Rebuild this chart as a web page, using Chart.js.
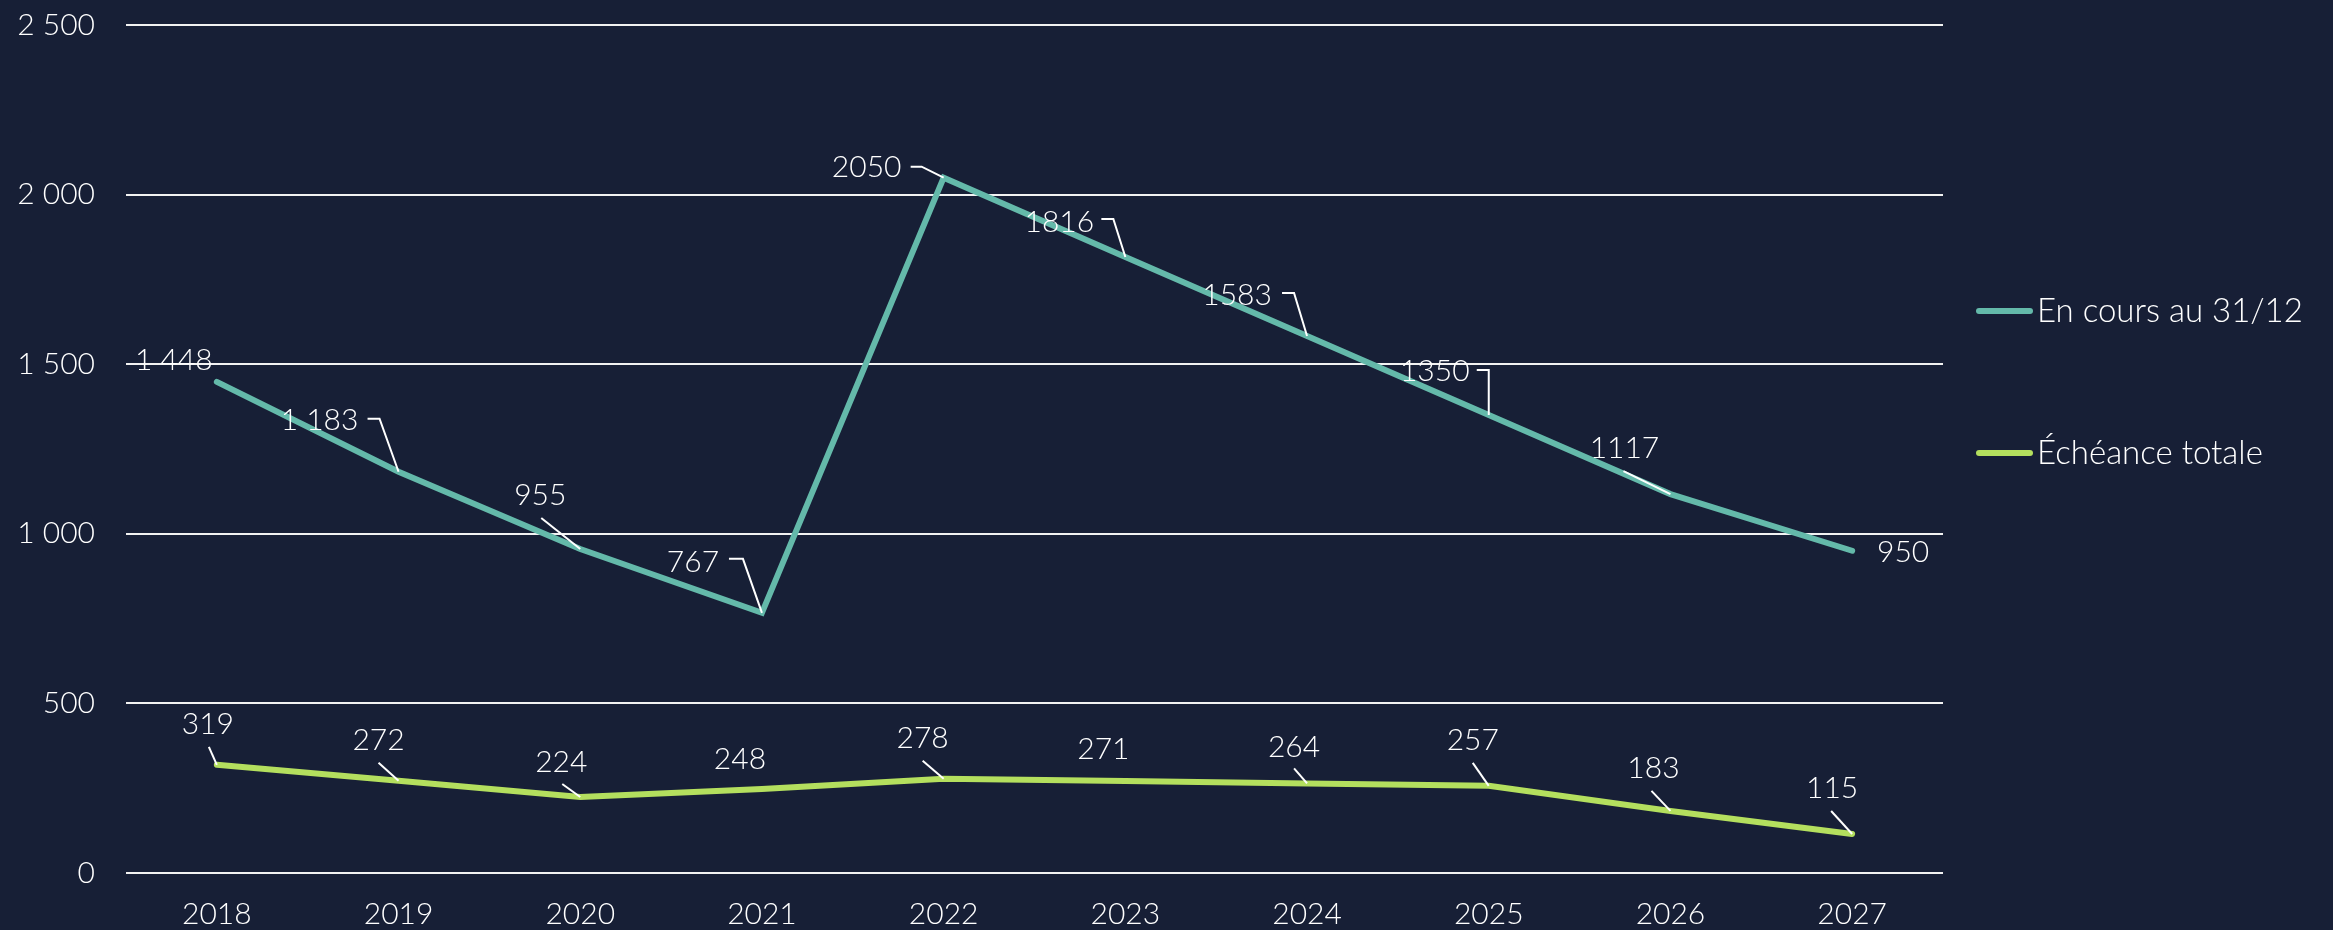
<!DOCTYPE html>
<html lang="fr">
<head>
  <meta charset="UTF-8" />
  <title>En cours au 31/12 et échéance totale</title>
  <script src="https://cdn.jsdelivr.net/npm/chart.js@4/dist/chart.umd.min.js"></script>
  <style>
    html, body {
      margin: 0;
      padding: 0;
      background: #171f36;
    }
    .chart-box {
      position: relative;
      width: 2333px;
      height: 930px;
    }
  </style>
</head>
<body>
  <div class="chart-box">
    <canvas id="chartMain"></canvas>
  </div>

  <script>
    // --------------------------
    // données
    // --------------------------
    const annees = ['2018', '2019', '2020', '2021', '2022', '2023', '2024', '2025', '2026', '2027'];
    const enCours = [1448, 1183, 955, 767, 2050, 1816, 1583, 1350, 1117, 950];
    const echeance = [319, 272, 224, 248, 278, 271, 264, 257, 183, 115];
    const enCoursTextes = ['1 448', '1 183', '955', '767', '2050', '1816', '1583', '1350', '1117', '950'];
    const echeanceTextes = ['319', '272', '224', '248', '278', '271', '264', '257', '183', '115'];
    const yTicksTextes = ['0', '500', '1 000', '1 500', '2 000', '2 500'];
    const seriesNoms = ['En cours au 31/12', 'Échéance totale'];

    // couleurs
    const fond = '#171f36';
    const teal = '#64b9aa';
    const vert = '#b4df5e';
    const blanc = '#ffffff';
    const police = 'Lato, "Open Sans", sans-serif';

    // placement des étiquettes : décalage (px) par rapport au point + trait de rappel
    const placementEnCours = [
      { dx: -43, dy: -22, trait: null },
      { dx: -79, dy: -51, trait: [[-31, -53], [-19, -53], [0, 0]] },
      { dx: -40, dy: -54, trait: [[-39, -31], [0, 0]] },
      { dx: -69, dy: -51, trait: [[-33, -54], [-19, -54], [0, 0]] },
      { dx: -77, dy: -10, trait: [[-33, -11], [-22, -11], [0, 0]] },
      { dx: -66, dy: -35, trait: [[-24, -38], [-12, -38], [0, 0]] },
      { dx: -70, dy: -41, trait: [[-25, -43], [-13, -43], [0, 0]] },
      { dx: -54, dy: -44, trait: [[-12, -45], [0, -45], [0, 0]] },
      { dx: -46, dy: -46, trait: [[-47, -23], [0, 0]] },
      { dx: 51, dy: 2, trait: null }
    ];
    const placementEcheance = [
      { dx: -9, dy: -40, trait: [[-8, -18], [0, 0]] },
      { dx: -20, dy: -40, trait: [[-20, -18], [0, 0]] },
      { dx: -19, dy: -35, trait: [[-18, -13], [0, 0]] },
      { dx: -22, dy: -30, trait: null },
      { dx: -21, dy: -40, trait: [[-21, -18], [0, 0]] },
      { dx: -22, dy: -32, trait: null },
      { dx: -13, dy: -36, trait: [[-13, -15], [0, 0]] },
      { dx: -16, dy: -45, trait: [[-16, -23], [0, 0]] },
      { dx: -17, dy: -43, trait: [[-19, -20], [0, 0]] },
      { dx: -20, dy: -46, trait: [[-21, -23], [0, 0]] }
    ];
    const textes = [enCoursTextes, echeanceTextes];
    const placements = [placementEnCours, placementEcheance];

    // fond du canvas
    const fondPlugin = {
      id: 'fond',
      beforeDraw(chart) {
        const ctx = chart.ctx;
        ctx.save();
        ctx.fillStyle = fond;
        ctx.fillRect(0, 0, chart.width, chart.height);
        ctx.restore();
      }
    };

    // étiquettes de valeurs avec traits de rappel
    const etiquettesPlugin = {
      id: 'etiquettes',
      afterDatasetsDraw(chart) {
        const ctx = chart.ctx;
        ctx.save();
        ctx.font = '300 30px ' + police;
        ctx.fillStyle = blanc;
        ctx.strokeStyle = blanc;
        ctx.lineWidth = 2;
        ctx.textAlign = 'center';
        ctx.textBaseline = 'middle';
        chart.data.datasets.forEach((ds, i) => {
          const meta = chart.getDatasetMeta(i);
          meta.data.forEach((pt, j) => {
            const p = placements[i][j];
            if (p.trait) {
              ctx.beginPath();
              p.trait.forEach(([x, y], k) => {
                if (k === 0) ctx.moveTo(pt.x + x, pt.y + y);
                else ctx.lineTo(pt.x + x, pt.y + y);
              });
              ctx.stroke();
            }
            ctx.fillText(textes[i][j], pt.x + p.dx, pt.y + p.dy);
          });
        });
        ctx.restore();
      }
    };

    // légende à droite
    const legendePlugin = {
      id: 'legende',
      afterDraw(chart) {
        const ctx = chart.ctx;
        const x0 = chart.chartArea.right + 33;
        const ys = [311, 453];
        ctx.save();
        ctx.font = '300 33px ' + police;
        ctx.textAlign = 'left';
        ctx.textBaseline = 'middle';
        ctx.lineCap = 'round';
        ctx.lineWidth = 6;
        chart.data.datasets.forEach((ds, i) => {
          ctx.strokeStyle = ds.borderColor;
          ctx.beginPath();
          ctx.moveTo(x0 + 3, ys[i]);
          ctx.lineTo(x0 + 54, ys[i]);
          ctx.stroke();
          ctx.fillStyle = blanc;
          ctx.fillText(ds.label, x0 + 61, ys[i]);
        });
        ctx.restore();
      }
    };

    const ctx = document.getElementById('chartMain').getContext('2d');
    new Chart(ctx, {
      type: 'line',
      data: {
        labels: annees,
        datasets: [
          {
            label: seriesNoms[0],
            data: enCours,
            borderColor: teal,
            backgroundColor: teal,
            borderWidth: 6,
            borderCapStyle: 'round',
            pointRadius: 0,
            tension: 0
          },
          {
            label: seriesNoms[1],
            data: echeance,
            borderColor: vert,
            backgroundColor: vert,
            borderWidth: 6,
            borderCapStyle: 'round',
            pointRadius: 0,
            tension: 0
          }
        ]
      },
      options: {
        responsive: true,
        maintainAspectRatio: false,
        animation: false,
        layout: {
          padding: { left: 0, right: 390, top: 25, bottom: 0 }
        },
        scales: {
          x: {
            offset: true,
            grid: { display: false, drawTicks: false },
            border: { display: false },
            ticks: {
              color: blanc,
              padding: 23,
              maxRotation: 0,
              font: { family: police, size: 30, weight: '300' }
            },
            afterFit(scale) { scale.height = 57; }
          },
          y: {
            min: 0,
            max: 2500,
            grid: { color: '#f2f2f2', lineWidth: 2, drawTicks: false },
            border: { display: false },
            ticks: {
              stepSize: 500,
              color: blanc,
              padding: 31,
              font: { family: police, size: 30, weight: '300' },
              callback: (v, i) => yTicksTextes[i]
            },
            afterFit(scale) {
              scale.width = 126;
              scale.paddingTop = 0;
              scale.paddingBottom = 0;
            }
          }
        },
        plugins: {
          legend: { display: false },
          tooltip: { enabled: false }
        }
      },
      plugins: [fondPlugin, etiquettesPlugin, legendePlugin]
    });
  </script>
</body>
</html>
